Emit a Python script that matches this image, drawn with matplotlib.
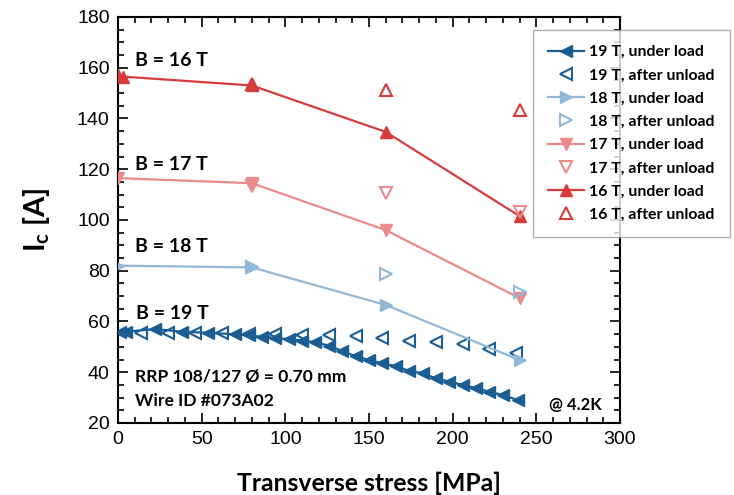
import matplotlib
matplotlib.use("Agg")
import matplotlib.pyplot as plt
from matplotlib.ticker import MultipleLocator

plt.rcParams['mathtext.fontset'] = 'custom'
plt.rcParams['mathtext.rm'] = 'Lato:bold'
plt.rcParams['mathtext.it'] = 'Lato:bold'
plt.rcParams['mathtext.bf'] = 'Lato:bold'

# ---- data ----
x19_load = [1, 5, 22, 38, 54, 70, 78, 86, 94, 102, 110, 118, 126, 134, 142, 150,
            158, 166, 174, 182, 190, 198, 206, 214, 222, 230, 239]
y19_load = [56, 56, 57, 56, 55.5, 55, 54.5, 54, 53.5, 53, 52.5, 51.8, 50.5, 48.3,
            46.3, 44.8, 43.5, 42.4, 40.5, 39.6, 37.6, 36.3, 35, 33.7, 32.3, 31, 29]
x19_unl = [14, 30, 46, 62, 78, 94, 110, 126, 142, 158, 174, 190, 206, 222, 238]
y19_unl = [55.5, 55.5, 55.5, 55.3, 55.2, 55, 54.8, 54.6, 54.4, 53.5, 52.5, 52,
           51, 49.2, 47.4]

x18_load = [0, 80, 160, 240]
y18_load = [82, 81.3, 66.5, 44.8]
x18_unl = [80, 160, 240]
y18_unl = [81.3, 78.7, 71.7]

x17_load = [0, 80, 160, 240]
y17_load = [116.5, 114.5, 96, 69.2]
x17_unl = [80, 160, 240]
y17_unl = [113.5, 110.5, 103.2]

x16_load = [0, 3, 80, 160, 240]
y16_load = [157, 156.5, 153, 134.7, 101.5]
x16_unl = [80, 160, 240]
y16_unl = [153.7, 151.1, 143.2]

c19 = "#1b5e94"
c18 = "#93b8d7"
c17 = "#ea8a8a"
c16 = "#d63c3c"

fig = plt.figure(figsize=(7.34, 4.95), dpi=100)
ax = fig.add_axes([0.1608, 0.1455, 0.6839, 0.8202])

ms = 8.5
mew = 1.5
h19l, = ax.plot(x19_load, y19_load, color=c19, lw=1.6, marker='<', ms=ms,
                label='19 T, under load', zorder=3)
h19u, = ax.plot(x19_unl, y19_unl, ls='none', marker='<', ms=ms, mfc='white',
                mec=c19, mew=mew, label='19 T, after unload', zorder=2)
h18l, = ax.plot(x18_load, y18_load, color=c18, lw=1.6, marker='>', ms=ms,
                label='18 T, under load', zorder=3)
h18u, = ax.plot(x18_unl, y18_unl, ls='none', marker='>', ms=ms, mfc='none',
                mec=c18, mew=mew, label='18 T, after unload', zorder=4)
h17l, = ax.plot(x17_load, y17_load, color=c17, lw=1.6, marker='v', ms=ms,
                label='17 T, under load', zorder=3)
h17u, = ax.plot(x17_unl, y17_unl, ls='none', marker='v', ms=ms, mfc='none',
                mec=c17, mew=mew, label='17 T, after unload', zorder=4)
h16l, = ax.plot(x16_load, y16_load, color=c16, lw=1.6, marker='^', ms=ms,
                label='16 T, under load', zorder=3)
h16u, = ax.plot(x16_unl, y16_unl, ls='none', marker='^', ms=ms, mfc='none',
                mec=c16, mew=mew, label='16 T, after unload', zorder=4)

ax.set_xlim(0, 300)
ax.set_ylim(20, 180)
ax.xaxis.set_major_locator(MultipleLocator(50))
ax.xaxis.set_minor_locator(MultipleLocator(10))
ax.yaxis.set_major_locator(MultipleLocator(20))
ax.yaxis.set_minor_locator(MultipleLocator(5))
ax.tick_params(which='both', direction='in', top=True, right=True, width=1.2)
ax.tick_params(which='major', length=7, labelsize=14, pad=6)
ax.tick_params(which='minor', length=4)
for lab in ax.get_xticklabels() + ax.get_yticklabels():
    lab.set_fontfamily('Liberation Sans')
for s in ax.spines.values():
    s.set_linewidth(1.5)

ax.set_xlabel('Transverse stress [MPa]', fontfamily='Lato', fontweight='bold',
              fontsize=17.8, labelpad=17)
ax.set_ylabel(r'I$_{\mathrm{c}}$ [A]', fontfamily='Lato', fontweight='bold',
              fontsize=21, labelpad=18)

tk = dict(fontfamily='Lato', fontweight='bold', fontsize=14, va='center')
ax.text(10, 163, 'B = 16 T', **tk)
ax.text(10, 121.8, 'B = 17 T', **tk)
ax.text(10, 89.7, 'B = 18 T', **tk)
ax.text(11, 63.3, 'B = 19 T', **tk)
tk2 = dict(tk, fontsize=12.6)
ax.text(10, 38, 'RRP 108/127 Ø = 0.70 mm', **tk2)
ax.text(10, 28.7, 'Wire ID #073A02', **tk2)
ax.text(289, 27, '@ 4.2K', ha='right', fontfamily='Lato', fontweight='bold',
        fontsize=12, va='center')

leg = fig.legend(handles=[h19l, h19u, h18l, h18u, h17l, h17u, h16l, h16u],
                 loc='upper left', bbox_to_anchor=(533/734, 1-30/495),
                 prop={'family': 'Lato', 'weight': 'bold', 'size': 11.4},
                 fancybox=False, frameon=True, handlelength=2.3,
                 labelspacing=0.58, borderpad=0.95, handletextpad=0.3,
                 borderaxespad=0)
leg.get_frame().set_edgecolor('#999999')
leg.get_frame().set_linewidth(1.0)

fig.savefig('out.png', dpi=100)
